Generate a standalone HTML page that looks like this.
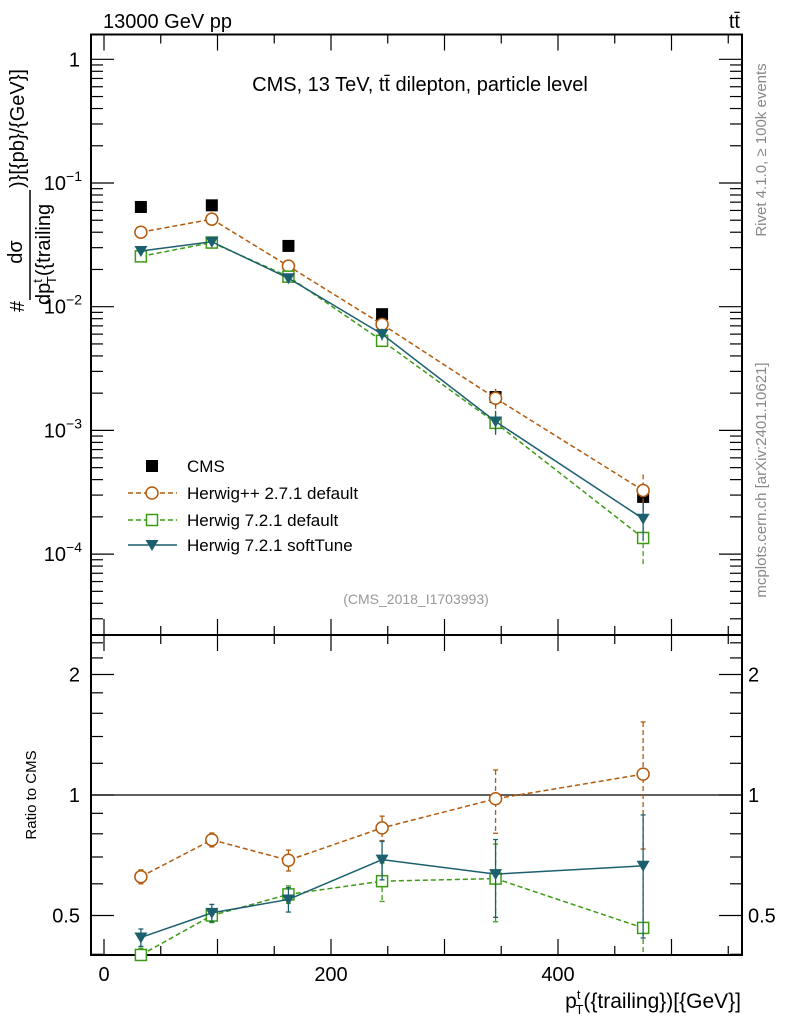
<!DOCTYPE html>
<html><head><meta charset="utf-8"><style>
body{margin:0;background:#fff}
svg{display:block;font-family:"Liberation Sans",sans-serif}
</style></head><body>
<svg id="c" width="786" height="1024" viewBox="0 0 786 1024">
<text x="103" y="28" font-size="20">13000 GeV pp</text>
<text x="740" y="28" font-size="20" text-anchor="end">tt̄</text>
<text x="420" y="91" font-size="20" text-anchor="middle">CMS, 13 TeV, tt̄ dilepton, particle level</text>
<text x="416" y="604" font-size="14" fill="#999" text-anchor="middle">(CMS_2018_I1703993)</text>
<text transform="translate(766,150) rotate(-90)" font-size="15" fill="#888" text-anchor="middle">Rivet 4.1.0, ≥ 100k events</text>
<text transform="translate(766,480) rotate(-90)" font-size="15" fill="#888" text-anchor="middle">mcplots.cern.ch [arXiv:2401.10621]</text>
<g font-size="20">
<text transform="translate(24,312) rotate(-90)">#</text>
<text transform="translate(22,252) rotate(-90)" text-anchor="middle">dσ</text>
<line x1="30" y1="300" x2="30" y2="190" stroke="#000" stroke-width="1.5"/>
<text transform="translate(50,305) rotate(-90)">dp<tspan font-size="13" dy="-8">t</tspan><tspan font-size="13" dx="-5" dy="14">T</tspan><tspan dy="-6">({trailing</tspan></text>
<text transform="translate(24,188) rotate(-90)">)}[{pb}/{GeV}]</text>
</g>
<text transform="translate(36,795) rotate(-90)" font-size="15" text-anchor="middle">Ratio to CMS</text>
<text x="741" y="1008" font-size="21" text-anchor="end">p<tspan font-size="13" dy="-9">t</tspan><tspan font-size="13" dx="-5" dy="15">T</tspan><tspan dy="-6">({trailing})[{GeV}]</tspan></text>
<g id="main"></g>
<g id="ratio"></g>
<g id="legend"></g>
</svg>
<script>
const xCenters=[32.5,95,162.5,245,345,475];
const cmsVals=[0.064,0.066,0.031,0.0087,0.00186,0.00029];
const cmsErr=[0.002,0.002,0.001,0.0004,0.0003,0.00006];
const hppVals=[0.040,0.051,0.0213,0.0072,0.00182,0.000327];
const h7Vals=[0.0255,0.033,0.0175,0.0053,0.00115,0.000135];
const softVals=[0.0282,0.0335,0.017,0.0060,0.00118,0.000193];
const hppRelErr=[0.04,0.04,0.06,0.07,0.18,0.35];
const h7RelErr=[0.04,0.04,0.05,0.11,0.22,0.42];
const softRelErr=[0.05,0.05,0.07,0.11,0.22,0.34];
const xTicks=[0,200,400];
const mainTickLabels=["1","10","10","10","10"];
const mainTickExp=["","−1","−2","−3","−4"];
const ratioTicks=[0.5,1,2];
const ratioTickLabels=["0.5","1","2"];

const NS="http://www.w3.org/2000/svg";
const L=91,R=742,T=34.5,MB=635,RB=955;
const X=v=>104+v*1.135;
const Y=v=>59.3-123.7*Math.log10(v);
const RY=v=>795-120.5*Math.log2(v);
function mk(p,tag,a){const e=document.createElementNS(NS,tag);for(const k in a)e.setAttribute(k,a[k]);p.appendChild(e);return e;}
const main=document.getElementById('main'),ratio=document.getElementById('ratio'),leg=document.getElementById('legend');

let f=mk(main,'rect',{x:L,y:T,width:R-L,height:MB-T,fill:'none',stroke:'#000','stroke-width':2});


f=mk(ratio,'rect',{x:L,y:MB,width:R-L,height:RB-MB,fill:'none',stroke:'#000','stroke-width':2});



for(let g=0;g<=550;g+=50){
  const x=X(g),maj=g%100===0,len=maj?16:9;
  for(const [y0,d] of [[T,1],[MB,-1],[MB,1],[RB,-1]]){
    mk(main,'line',{x1:x,x2:x,y1:y0,y2:y0+d*len,stroke:'#000','stroke-width':1.2});
  }
}
xTicks.forEach(t=>{
  const e=mk(ratio,'text',{x:X(t),y:981,'font-size':20,'text-anchor':'middle'});e.textContent=String(t);
  
  
});
for(let d=0;d>=-5;d--){
  for(let m=1;m<=9;m++){
    const v=m*Math.pow(10,d),y=Y(v);
    if(y<T||y>MB)continue;
    const len=m===1?23:12;
    mk(main,'line',{x1:L,x2:L+len,y1:y,y2:y,stroke:'#000','stroke-width':1.2});
    mk(main,'line',{x1:R,x2:R-len,y1:y,y2:y,stroke:'#000','stroke-width':1.2});
  }
}
mainTickLabels.forEach((t,i)=>{
  const e=mk(main,'text',{x:i===0?80:82,y:Y(Math.pow(10,-i))+7,'font-size':20,'text-anchor':'end'});
  e.textContent=t;
  if(mainTickExp[i]){const s=mk(e,'tspan',{dy:-9,'font-size':14});s.textContent=mainTickExp[i];}
  
  
});
[0.4,0.5,0.6,0.7,0.8,0.9,1,1.2,1.4,1.6,1.8,2,2.2,2.4].forEach(v=>{
  const y=RY(v);if(y<MB||y>RB)return;
  const maj=[0.5,1,2].includes(v),len=maj?23:12;
  mk(ratio,'line',{x1:L,x2:L+len,y1:y,y2:y,stroke:'#000','stroke-width':1.2});
  mk(ratio,'line',{x1:R,x2:R-len,y1:y,y2:y,stroke:'#000','stroke-width':1.2});
});
ratioTicks.forEach((v,i)=>{
  for(const [x,a] of [[80,'end'],[748,'start']]){
    const e=mk(ratio,'text',{x:x,y:RY(v)+7,'font-size':20,'text-anchor':a});e.textContent=ratioTickLabels[i];
    
    
  }
});
mk(ratio,'line',{x1:L,x2:R,y1:RY(1),y2:RY(1),stroke:'#000','stroke-width':1.3});

function marker(p,type,x,y,col){
  if(type==='sq')return mk(p,'rect',{x:x-6,y:y-6,width:12,height:12,fill:'#000'});
  if(type==='circ')return mk(p,'circle',{cx:x,cy:y,r:6,fill:'#fff',stroke:col,'stroke-width':1.5});
  if(type==='osq')return mk(p,'rect',{x:x-5.5,y:y-5.5,width:11,height:11,fill:'#fff',stroke:col,'stroke-width':1.5});
  return mk(p,'path',{d:`M${x-6.5},${y-5}L${x+6.5},${y-5}L${x},${y+6}Z`,fill:col});
}
const series=[
 {name:'herwigpp',vals:hppVals,err:hppRelErr,col:'#b35a0c',dash:'5,3',m:'circ',label:'Herwig++ 2.7.1 default'},
 {name:'herwig7-default',vals:h7Vals,err:h7RelErr,col:'#3d9a14',dash:'5,3',m:'osq',label:'Herwig 7.2.1 default'},
 {name:'herwig7-softtune',vals:softVals,err:softRelErr,col:'#1c5f6e',dash:'',m:'tri',label:'Herwig 7.2.1 softTune'}
];
cmsVals.forEach((v,i)=>{
  mk(main,'line',{x1:X(xCenters[i]),x2:X(xCenters[i]),y1:Y(v+cmsErr[i]),y2:Y(v-cmsErr[i]),stroke:'#000','stroke-width':1.2});
  const e=marker(main,'sq',X(xCenters[i]),Y(v),'#000');
  
  
});
series.forEach(s=>{
  const pts=s.vals.map((v,i)=>X(xCenters[i])+','+Y(v)).join(' ');
  const pl=mk(main,'polyline',{points:pts,fill:'none',stroke:s.col,'stroke-width':1.5,'stroke-dasharray':s.dash});
  
  
  const r=s.vals.map((v,i)=>v/cmsVals[i]);
  const rl=mk(ratio,'polyline',{points:r.map((v,i)=>X(xCenters[i])+','+RY(v)).join(' '),fill:'none',stroke:s.col,'stroke-width':1.5,'stroke-dasharray':s.dash});
  
  
  s.vals.forEach((v,i)=>{
    const x=X(xCenters[i]);
    const e=s.err[i];
    mk(main,'line',{x1:x,x2:x,y1:Y(v*(1+e)),y2:Y(v*(1-e)),stroke:s.col,'stroke-width':1.3,'stroke-dasharray':s.dash});
    const m=marker(main,s.m,x,Y(v),s.col);
    
    
    const rv=r[i],y1=RY(rv*(1+e)),y2=RY(rv*(1-e));
    mk(ratio,'line',{x1:x,x2:x,y1:y1,y2:Math.min(y2,RB),stroke:s.col,'stroke-width':1.3,'stroke-dasharray':s.dash});
    mk(ratio,'line',{x1:x-2.5,x2:x+2.5,y1:y1,y2:y1,stroke:s.col,'stroke-width':1.3});
    if(y2<RB)mk(ratio,'line',{x1:x-2.5,x2:x+2.5,y1:y2,y2:y2,stroke:s.col,'stroke-width':1.3});
    const rm=marker(ratio,s.m,x,RY(rv),s.col);
    
    
  });
});
const ly=[466,493,520,545];
let e=marker(leg,'sq',152,ly[0],'#000');


let t=mk(leg,'text',{x:187,y:ly[0]+6,'font-size':17});t.textContent='CMS';


series.forEach((s,i)=>{
  const y=ly[i+1];
  mk(leg,'line',{x1:128,x2:177,y1:y,y2:y,stroke:s.col,'stroke-width':1.5,'stroke-dasharray':s.dash});
  const m=marker(leg,s.m,152,y,s.col);
  
  
  const tx=mk(leg,'text',{x:187,y:y+6,'font-size':17});tx.textContent=s.label;
  
  
});
</script>
</body></html>
